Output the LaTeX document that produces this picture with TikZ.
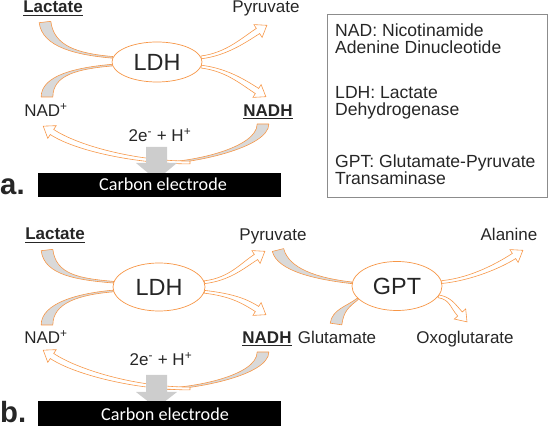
\documentclass[tikz,border=0pt]{standalone}
\usepackage{fontspec}
\setmainfont{Liberation Sans}
\newfontfamily\carlito{Carlito}
\usetikzlibrary{calc,shapes.geometric,backgrounds}

\definecolor{arcorange}{HTML}{F79646}
\definecolor{bandgray}{HTML}{D9D9D9}
\definecolor{downgray}{HTML}{CDCDCD}
\definecolor{boxgray}{HTML}{8C8C8C}
\definecolor{txt}{HTML}{262626}

\tikzset{
  lbl/.style={font=\fontsize{14.5}{17}\selectfont, text=txt, inner sep=0pt, anchor=base},
  legend/.style={lbl, font=\fontsize{15}{17}\selectfont, anchor=base west},
  enzyme/.style={ellipse, draw=arcorange, line width=0.6pt, fill=white, inner sep=0pt,
    font=\fontsize{20}{24}\selectfont, text=txt},
  panel/.style={font=\fontsize{25}{28}\selectfont\bfseries, text=txt, inner sep=0pt, anchor=base west},
  electrode/.style={font=\carlito\fontsize{15.5}{17}\selectfont, text=white, inner sep=0pt, anchor=base},
  inband/.style={fill=bandgray, draw=arcorange, line width=0.5pt, line join=round},
  outband/.style={fill=white, draw=arcorange, line width=0.5pt, line join=miter},
}

% substrate band: start, offset of first control, offset of second control, end, half width
\newcommand\inflow[5]{%
  \coordinate (bS) at (#1); \coordinate (bE) at (#4);
  \coordinate (bA) at ($(bS)+(#2)$); \coordinate (bB) at ($(bE)+(#3)$);
  \coordinate (bS1) at ($(bS)!#5!90:(bA)$); \coordinate (bS2) at ($(bS)!#5!-90:(bA)$);
  \coordinate (bE1) at ($(bE)!0.7pt!-90:(bB)$); \coordinate (bE2) at ($(bE)!0.7pt!90:(bB)$);
  \filldraw[inband] (bS1) .. controls ($(bA)+(bS1)-(bS)$) and ($(bB)+(bE1)-(bE)$) .. (bE1)
    -- (bE2) .. controls ($(bB)+(bE2)-(bE)$) and ($(bA)+(bS2)-(bS)$) .. (bS2) -- cycle;
}
% product arrow: start, offset of first control, offset of second control, end of band
\newcommand\outflow[4]{%
  \coordinate (bS) at (#1); \coordinate (bE) at (#4);
  \coordinate (bA) at ($(bS)+(#2)$); \coordinate (bB) at ($(bE)+(#3)$);
  \coordinate (bS1) at ($(bS)!1.2pt!90:(bA)$); \coordinate (bS2) at ($(bS)!1.2pt!-90:(bA)$);
  \coordinate (bE1) at ($(bE)!2.6pt!-90:(bB)$); \coordinate (bE2) at ($(bE)!2.6pt!90:(bB)$);
  \coordinate (bH1) at ($(bE)!6.5pt!-90:(bB)$); \coordinate (bH2) at ($(bE)!6.5pt!90:(bB)$);
  \coordinate (bT) at ($(bE)!-9pt!(bB)$);
  \filldraw[outband] (bS1) .. controls ($(bA)+(bS1)-(bS)$) and ($(bB)+(bE1)-(bE)$) .. (bE1)
    -- (bH1) -- (bT) -- (bH2)
    -- (bE2) .. controls ($(bB)+(bE2)-(bE)$) and ($(bA)+(bS2)-(bS)$) .. (bS2) -- cycle;
}

\begin{document}
\begin{tikzpicture}[x=0.03cm,y=-0.03cm]
\useasboundingbox (0,0) rectangle (548,428);

% panel a
\node[enzyme, minimum width=2.7cm, minimum height=1.2cm] (ldhA) at (157,62) {LDH};
\node[lbl] (lacA) at (53,13) {\underline{\textbf{Lactate}}};
\node[lbl] (pyrA) at (266,13) {Pyruvate};
\node[lbl] (nadA) at (46,117) {NAD\textsuperscript{+}};
\node[lbl] (nadhA) at (268,117) {\underline{\textbf{NADH}}};
\node[lbl] (eA) at (160,142) {2e\textsuperscript{-} + H\textsuperscript{+}};

\coordinate (lacAin) at (45,22);
\coordinate (nadAin) at (47,97);
\coordinate (nadhAin) at (263,124);
\coordinate (pyrAhead) at (258,31);
\coordinate (nadhAhead) at (257,91);
\coordinate (arcAmid) at (160,163);
\coordinate (arcAstart) at (190,162.5);
\coordinate (nadAhead) at (52,132);

\begin{scope}[on background layer]
\inflow{lacAin}{3,25}{-35,-3}{ldhA.174}{5pt}
\inflow{nadAin}{0,-22}{-35,3}{ldhA.184}{5pt}
\outflow{ldhA.6}{25,-3}{-14,9}{pyrAhead}
\outflow{ldhA.354}{25,3}{-14,-9}{nadhAhead}
\inflow{nadhAin}{0,24}{32,0}{arcAmid}{5pt}
\outflow{arcAstart}{-55,0}{24,16}{nadAhead}
\end{scope}

\fill[downgray] (146,147) -- (167,147) -- (167,163) -- (177,163) -- (156.5,180)
  -- (136,163) -- (146,163) -- cycle;
\fill[black] (38,173) rectangle (281,197);
\node[electrode] (elA) at (163,191) {Carbon electrode};
\node[panel] (tagA) at (0,195) {a.};

% legend
\draw[boxgray, line width=0.6pt] (327,14) rectangle (547,197);
\node[legend] (leg1) at (335,37) {NAD: Nicotinamide};
\node[legend] (leg2) at (335,54) {Adenine Dinucleotide};
\node[legend] (leg3) at (335,99) {LDH: Lactate};
\node[legend] (leg4) at (335,116) {Dehydrogenase};
\node[legend] (leg5) at (335,168) {GPT: Glutamate-Pyruvate};
\node[legend] (leg6) at (335,185) {Transaminase};

% panel b
\node[enzyme, minimum width=2.76cm, minimum height=1.44cm] (ldhB) at (159,287) {LDH};
\node[enzyme, minimum width=2.7cm, minimum height=1.47cm] (gptB) at (397,286) {GPT};
\node[lbl] (lacB) at (55,240) {\underline{\textbf{Lactate}}};
\node[lbl] (pyrB) at (273,241) {Pyruvate};
\node[lbl] (alaB) at (509,241) {Alanine};
\node[lbl] (nadB) at (46,344) {NAD\textsuperscript{+}};
\node[lbl] (nadhB) at (267,344) {\underline{\textbf{NADH}}};
\node[lbl] (gluB) at (337,344) {Glutamate};
\node[lbl] (oxoB) at (465,344) {Oxoglutarate};
\node[lbl] (eB) at (161,366) {2e\textsuperscript{-} + H\textsuperscript{+}};

\coordinate (lacBin) at (47,250);
\coordinate (nadBin) at (47,325);
\coordinate (nadhBin) at (263,352);
\coordinate (pyrBin) at (278,250);
\coordinate (gluBin) at (336,324);
\coordinate (pyrBhead) at (256,257);
\coordinate (nadhBhead) at (257,309);
\coordinate (alaBhead) at (514,256);
\coordinate (oxoBhead) at (460,314);
\coordinate (arcBmid) at (160,389);
\coordinate (arcBstart) at (190,388.5);
\coordinate (nadBhead) at (52,356);

\begin{scope}[on background layer]
\inflow{lacBin}{3,25}{-35,-3}{ldhB.174}{5pt}
\inflow{nadBin}{0,-22}{-35,3}{ldhB.185}{5pt}
\outflow{ldhB.6}{25,-3}{-14,9}{pyrBhead}
\outflow{ldhB.354}{25,3}{-14,-9}{nadhBhead}
\inflow{nadhBin}{0,24}{32,0}{arcBmid}{5pt}
\outflow{arcBstart}{-55,0}{24,16}{nadBhead}
\inflow{pyrBin}{5,20}{-35,-4}{gptB.176}{5pt}
\inflow{gluBin}{2,-14}{-10,8}{gptB.198}{5pt}
\outflow{gptB.5}{30,-3}{-14,9}{alaBhead}
\outflow{gptB.346}{12,2}{-8,-9}{oxoBhead}
\end{scope}

\fill[downgray] (146,375) -- (167,375) -- (167,392) -- (177,392) -- (156.5,408)
  -- (136,392) -- (146,392) -- cycle;
\fill[black] (38,401) rectangle (281,426);
\node[electrode] (elB) at (165,421) {Carbon electrode};
\node[panel] (tagB) at (0,423) {b.};
\end{tikzpicture}
\end{document}
